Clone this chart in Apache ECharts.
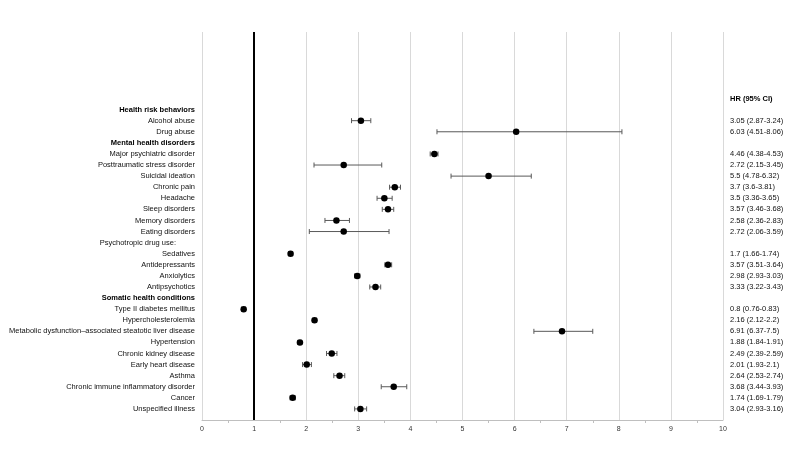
<!DOCTYPE html>
<html>
<head>
<meta charset="utf-8">
<script src="https://cdn.jsdelivr.net/npm/echarts@6/dist/echarts.min.js"></script>
<style>
  html, body { margin: 0; padding: 0; background: #fff; }
  #chart { width: 800px; height: 450px; }
</style>
</head>
<body>
<div id="chart"></div>
<script>
// rows, top to bottom ('' values = heading rows with no estimate)
var rowNames = [
  'Health risk behaviors', 'Alcohol abuse', 'Drug abuse',
  'Mental health disorders', 'Major psychiatric disorder', 'Posttraumatic stress disorder',
  'Suicidal ideation', 'Chronic pain', 'Headache', 'Sleep disorders', 'Memory disorders',
  'Eating disorders', 'Psychotropic drug use:', 'Sedatives', 'Antidepressants', 'Anxiolytics',
  'Antipsychotics', 'Somatic health conditions', 'Type II diabetes mellitus',
  'Hypercholesterolemia', 'Metabolic dysfunction–associated steatotic liver disease',
  'Hypertension', 'Chronic kidney disease', 'Early heart disease', 'Asthma',
  'Chronic immune inflammatory disorder', 'Cancer', 'Unspecified illness'
];
var rowType = [
  'head', '', '', 'head', '', '', '', '', '', '', '', '', 'sub', '', '', '', '',
  'head', '', '', '', '', '', '', '', '', '', ''
];
var hr = [null, 3.05, 6.03, null, 4.46, 2.72, 5.5, 3.7, 3.5, 3.57, 2.58, 2.72, null,
  1.7, 3.57, 2.98, 3.33, null, 0.8, 2.16, 6.91, 1.88, 2.49, 2.01, 2.64, 3.68, 1.74, 3.04];
var ciLow = [null, 2.87, 4.51, null, 4.38, 2.15, 4.78, 3.6, 3.36, 3.46, 2.36, 2.06, null,
  1.66, 3.51, 2.93, 3.22, null, 0.76, 2.12, 6.37, 1.84, 2.39, 1.93, 2.53, 3.44, 1.69, 2.93];
var ciHigh = [null, 3.24, 8.06, null, 4.53, 3.45, 6.32, 3.81, 3.65, 3.68, 2.83, 3.59, null,
  1.74, 3.64, 3.03, 3.43, null, 0.83, 2.2, 7.5, 1.91, 2.59, 2.1, 2.74, 3.93, 1.79, 3.16];
var ciText = ['', '3.05 (2.87-3.24)', '6.03 (4.51-8.06)', '', '4.46 (4.38-4.53)',
  '2.72 (2.15-3.45)', '5.5 (4.78-6.32)', '3.7 (3.6-3.81)', '3.5 (3.36-3.65)',
  '3.57 (3.46-3.68)', '2.58 (2.36-2.83)', '2.72 (2.06-3.59)', '', '1.7 (1.66-1.74)',
  '3.57 (3.51-3.64)', '2.98 (2.93-3.03)', '3.33 (3.22-3.43)', '', '0.8 (0.76-0.83)',
  '2.16 (2.12-2.2)', '6.91 (6.37-7.5)', '1.88 (1.84-1.91)', '2.49 (2.39-2.59)',
  '2.01 (1.93-2.1)', '2.64 (2.53-2.74)', '3.68 (3.44-3.93)', '1.74 (1.69-1.79)',
  '3.04 (2.93-3.16)'];
var ciHeader = 'HR (95% CI)';
var xTicks = [0, 1, 2, 3, 4, 5, 6, 7, 8, 9, 10];
var refLine = 1;

var nRows = rowNames.length;
// y position: top row = nRows, bottom row = 1
function rowY(i) { return nRows - i; }

var pts = [], bars = [];
for (var i = 0; i < nRows; i++) {
  if (hr[i] != null) {
    pts.push([hr[i], rowY(i)]);
    bars.push([ciLow[i], ciHigh[i], rowY(i)]);
  }
}

var fontFam = '"Liberation Sans", Arial, sans-serif';
var rich = {
  n: { fontSize: 7.5, color: '#111', fontFamily: fontFam },
  b: { fontSize: 7.5, color: '#000', fontWeight: 'bold', fontFamily: fontFam },
  s: { fontSize: 7.5, color: '#111', fontFamily: fontFam, padding: [0, 19, 0, 0] }
};

var chart = echarts.init(document.getElementById('chart'));
chart.setOption({
  animation: false,
  backgroundColor: '#fff',
  grid: { left: 202, right: 77, top: 32, bottom: 30 },
  xAxis: {
    type: 'value', min: 0, max: 10, interval: 1,
    axisLine: { show: true, lineStyle: { color: '#bfbfbf', width: 1 } },
    axisTick: { show: false },
    minorTick: { show: true, splitNumber: 2, length: 3, lineStyle: { color: '#bfbfbf' } },
    axisLabel: { fontSize: 7, color: '#333', fontFamily: fontFam, margin: 6,
      formatter: function (v) { return xTicks.indexOf(v) >= 0 ? String(v) : ''; } },
    splitLine: { show: true, lineStyle: { color: '#d9d9d9', width: 1 } }
  },
  yAxis: [{
    type: 'value', min: 0, max: 35, interval: 1, position: 'left',
    axisLine: { show: false }, axisTick: { show: false }, splitLine: { show: false },
    axisLabel: {
      margin: 7, align: 'right', rich: rich,
      formatter: function (v) {
        var i = nRows - v;
        if (i < 0 || i >= nRows || v <= 0) return '';
        var t = rowType[i] === 'head' ? 'b' : (rowType[i] === 'sub' ? 's' : 'n');
        return '{' + t + '|' + rowNames[i] + '}';
      }
    }
  }, {
    type: 'value', min: 0, max: 35, interval: 1, position: 'right',
    axisLine: { show: false }, axisTick: { show: false }, splitLine: { show: false },
    axisLabel: {
      margin: 7, align: 'left', rich: rich,
      formatter: function (v) {
        if (v === nRows + 1) return '{b|' + ciHeader + '}';
        var i = nRows - v;
        if (i < 0 || i >= nRows || v <= 0 || !ciText[i]) return '';
        return '{n|' + ciText[i] + '}';
      }
    }
  }],
  series: [{
    type: 'custom',
    data: bars,
    z: 3,
    renderItem: function (params, api) {
      var a = api.coord([api.value(0), api.value(2)]);
      var b = api.coord([api.value(1), api.value(2)]);
      var h = 2.5;
      var st = { stroke: '#595959', lineWidth: 1 };
      return { type: 'group', children: [
        { type: 'line', shape: { x1: a[0], y1: a[1], x2: b[0], y2: b[1] }, style: st },
        { type: 'line', shape: { x1: a[0], y1: a[1] - h, x2: a[0], y2: a[1] + h }, style: st },
        { type: 'line', shape: { x1: b[0], y1: b[1] - h, x2: b[0], y2: b[1] + h }, style: st }
      ]};
    }
  }, {
    type: 'scatter',
    data: pts,
    symbolSize: 6.5,
    z: 4,
    itemStyle: { color: '#000', opacity: 1 },
    markLine: {
      silent: true, symbol: 'none', label: { show: false },
      lineStyle: { color: '#000', width: 2, type: 'solid' },
      data: [{ xAxis: refLine }]
    }
  }]
});
</script>
</body>
</html>
